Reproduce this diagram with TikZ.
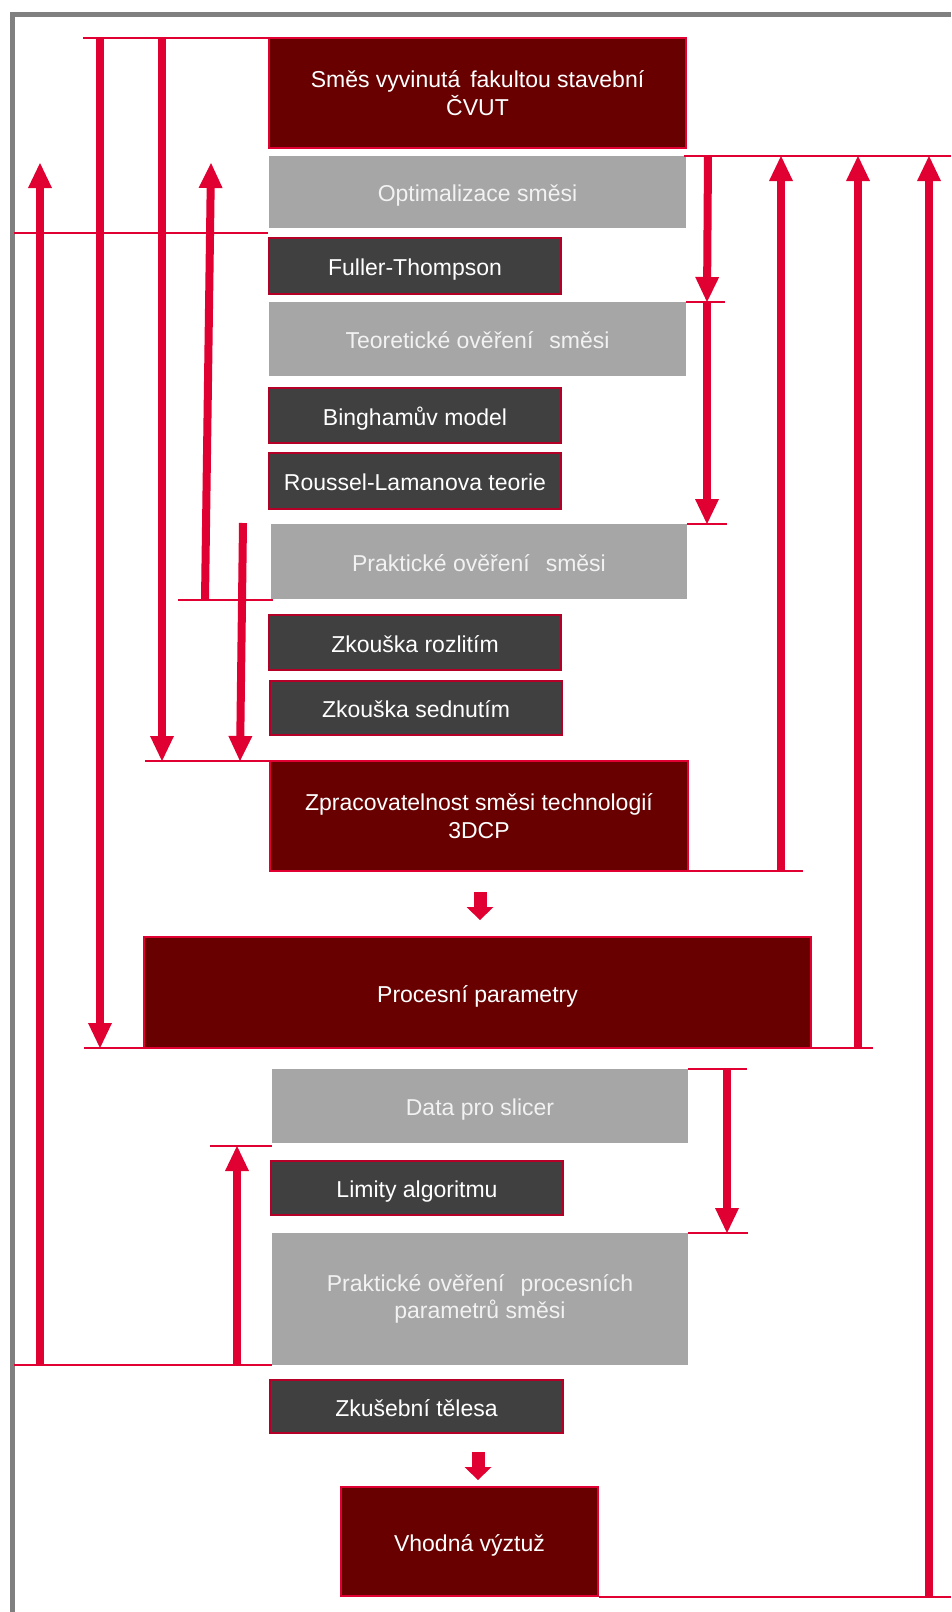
\documentclass[tikz,border=0pt]{standalone}
\usepackage{fontspec}
\setmainfont{Liberation Sans}
\usetikzlibrary{arrows.meta}
\definecolor{crim}{RGB}{224,0,50}
\definecolor{boxedge}{RGB}{180,0,38}
\definecolor{dred}{RGB}{104,0,0}
\definecolor{dgray}{RGB}{64,64,64}
\definecolor{lgray}{RGB}{166,166,166}
\definecolor{framegray}{RGB}{128,128,128}
\definecolor{ltext}{RGB}{242,242,242}
\newcommand\putbox[7]{\node[#2, minimum width={#5-#3}, minimum height={#6-#4}] (#1) at ({(#3+#5)/2},{(#4+#6)/2}) {#7};}
\begin{document}
\begin{tikzpicture}[x=1pt,y=-1pt,
  box/.style={inner sep=0pt, align=center, font=\fontsize{23}{27.6}\selectfont, text=white, text height=19pt, text depth=0pt},
  twoline/.style={text height={}, text depth={}},
  redbox/.style={box, fill=dred, draw=crim, line width=1.2pt},
  darkbox/.style={box, fill=dgray, draw=boxedge, line width=1.4pt},
  graybox/.style={box, fill=lgray, text=ltext},
  guide/.style={draw=crim, line width=1.3pt},
  bigarrow/.style={draw=crim, line width=8pt, -{Triangle[width=24pt,length=25pt,line width=0pt]}},
  blockarrow/.style={draw=crim, line width=13pt, -{Triangle[width=27pt,length=13pt,line width=0pt]}},
]
\useasboundingbox (0,0) rectangle (951,1612);
\fill[white] (0,0) rectangle (951,1612);
\draw[framegray, line width=5pt] (12,1612) -- (12,14) -- (951,14);

% boxes
\putbox{b1}{redbox,twoline}{269}{38}{686}{148}{Směs vyvinutá\hspace{10pt}fakultou stavební\\ČVUT}
\putbox{b2}{graybox}{269}{156}{686}{228}{Optimalizace směsi}
\putbox{b3}{darkbox}{269}{238}{561}{294}{Fuller-Thompson}
\putbox{b4}{graybox}{269}{302}{686}{376}{Teoretické ověření\hspace{16pt}směsi}
\putbox{b5}{darkbox}{269}{388}{561}{443}{Binghamův model}
\putbox{b6}{darkbox}{269}{453}{561}{509}{Roussel-Lamanova teorie}
\putbox{b7}{graybox}{271}{524}{687}{599}{Praktické ověření\hspace{16pt}směsi}
\putbox{b8}{darkbox}{269}{615}{561}{670}{Zkouška rozlitím}
\putbox{b9}{darkbox}{270}{681}{562}{735}{Zkouška sednutím}
\putbox{b10}{redbox,twoline}{270}{761}{688}{871}{Zpracovatelnost směsi technologií\\3DCP}
\putbox{b11}{redbox}{144}{937}{811}{1048}{Procesní parametry}
\putbox{b12}{graybox}{272}{1069}{688}{1143}{Data pro slicer}
\putbox{b13}{darkbox}{271}{1161}{563}{1215}{Limity algoritmu}
\putbox{b14}{graybox,twoline}{272}{1233}{688}{1365}{Praktické ověření\hspace{16pt}procesních\\parametrů směsi}
\putbox{b15}{darkbox}{270}{1380}{563}{1433}{Zkušební tělesa}
\putbox{b16}{redbox}{341}{1487}{598}{1596}{Vhodná výztuž}

% guide line end points
\coordinate (g1a) at (83,38);    \coordinate (g1b) at (269,38);
\coordinate (g2a) at (14,233);   \coordinate (g2b) at (268,233);
\coordinate (g3a) at (684,156);  \coordinate (g3b) at (951,156);
\coordinate (g4a) at (686,302);  \coordinate (g4b) at (725,302);
\coordinate (g5a) at (687,524);  \coordinate (g5b) at (727,524);
\coordinate (g6a) at (178,600);  \coordinate (g6b) at (273,600);
\coordinate (g7a) at (145,761);  \coordinate (g7b) at (270,761);
\coordinate (g8a) at (688,871);  \coordinate (g8b) at (803,871);
\coordinate (g9a) at (84,1048);  \coordinate (g9b) at (873,1048);
\coordinate (g10a) at (688,1069); \coordinate (g10b) at (747,1069);
\coordinate (g11a) at (210,1146); \coordinate (g11b) at (272,1146);
\coordinate (g12a) at (688,1233); \coordinate (g12b) at (748,1233);
\coordinate (g13a) at (14,1365);  \coordinate (g13b) at (272,1365);
\coordinate (g14a) at (599,1597); \coordinate (g14b) at (951,1597);
\foreach \i in {1,...,14} {\draw[guide] (g\i a) -- (g\i b);}

% big arrows
\coordinate (a1s) at (40,1365);  \coordinate (a1e) at (40,163);
\coordinate (a2s) at (100,38);   \coordinate (a2e) at (100,1048);
\coordinate (a3s) at (162,38);   \coordinate (a3e) at (162,761);
\coordinate (a4s) at (205,600);  \coordinate (a4e) at (211,163);
\coordinate (a5s) at (243,523);  \coordinate (a5e) at (240,761);
\coordinate (a6s) at (237,1365); \coordinate (a6e) at (237,1146);
\coordinate (a7s) at (708,156);  \coordinate (a7e) at (707,302);
\coordinate (a8s) at (707,302);  \coordinate (a8e) at (707,524);
\coordinate (a9s) at (781,871);  \coordinate (a9e) at (781,156);
\coordinate (a10s) at (858,1048); \coordinate (a10e) at (858,156);
\coordinate (a11s) at (929,1597); \coordinate (a11e) at (929,156);
\coordinate (a12s) at (727,1069); \coordinate (a12e) at (727,1233);
\foreach \i in {1,...,12} {\draw[bigarrow] (a\i s) -- (a\i e);}

% small block arrows
\coordinate (s1s) at (480,892);  \coordinate (s1e) at (480,920);
\coordinate (s2s) at (478,1452); \coordinate (s2e) at (478,1480);
\draw[blockarrow] (s1s) -- (s1e);
\draw[blockarrow] (s2s) -- (s2e);
\end{tikzpicture}
\end{document}
